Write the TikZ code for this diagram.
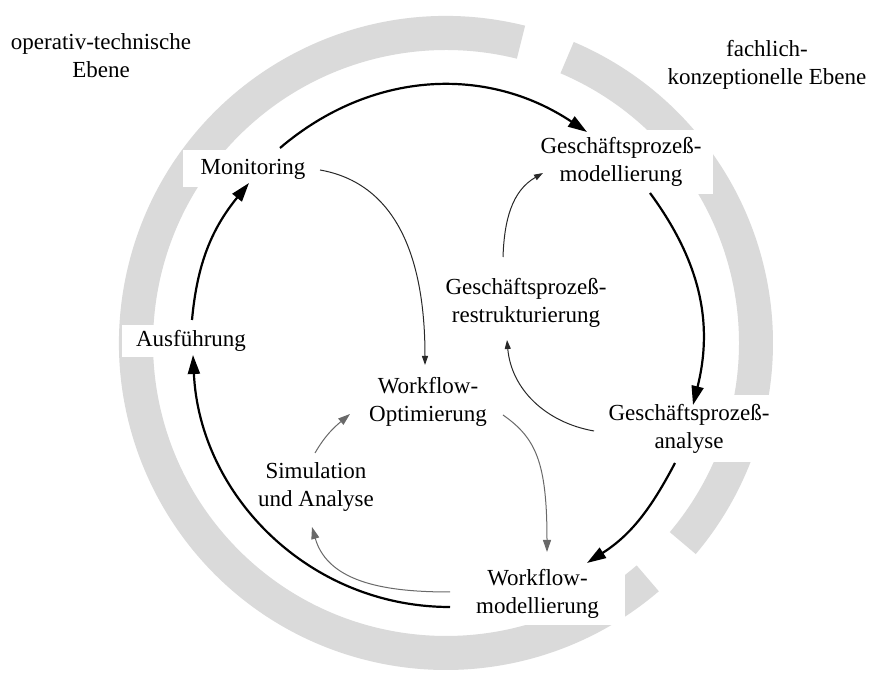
\documentclass[tikz,border=0pt]{standalone}
\usepackage{fontspec}
\setmainfont{Liberation Serif}
\newfontfamily\diagfont{Liberation Serif}
\usetikzlibrary{arrows.meta}
\definecolor{ringgray}{RGB}{218,218,218}
\definecolor{thindark}{RGB}{40,40,40}
\definecolor{thingray}{RGB}{105,105,105}
\begin{document}
\begin{tikzpicture}[x=1pt,y=1pt,
  lbl/.style={font=\diagfont\fontsize{23}{28}\selectfont, align=center, inner sep=0pt},
  box/.style={lbl, fill=white},
  main/.style={line width=2.2pt, -{Triangle[length=19pt,width=12pt]}},
  tarrow/.style={line width=1pt, draw=thindark, -{Triangle[length=9pt,width=6pt]}},
  garrow/.style={line width=1pt, draw=thingray, -{Triangle[length=12pt,width=8pt]}}
]
\useasboundingbox (0,0) rectangle (871,674);
\fill[white] (0,0) rectangle (871,674);
\coordinate (C) at (446,331);
% ring segments
\fill[ringgray] ([shift={(-40.2:327)}]C) arc[start angle=-40.2,end angle=67,radius=327pt]
  -- ([shift={(67:293)}]C) arc[start angle=67,end angle=-40.2,radius=293pt] -- cycle;
\fill[ringgray] ([shift={(76:327)}]C) arc[start angle=76,end angle=310.6,radius=327pt]
  -- ([shift={(310.6:293)}]C) arc[start angle=310.6,end angle=76,radius=293pt] -- cycle;
% nodes
\node[box, minimum width=140pt, minimum height=37pt] (mon) at (253,505) {Monitoring};
\node[box, minimum width=138pt, minimum height=32pt] (ausf) at (191,333) {Ausführung};
\node[box, minimum width=184pt, minimum height=64pt] (gpm) at (621,512) {Geschäftsprozeß-\\modellierung};
\node[box, minimum width=184pt, minimum height=67pt] (gpa) at (689,245) {Geschäftsprozeß-\\analyse};
\node[box, minimum width=175pt, minimum height=62pt] (wfm) at (537.5,80) {Workflow-\\modellierung};
\node[lbl] (wfo) at (428,272) {Workflow-\\Optimierung};
\node[lbl] (sim) at (316,187) {Simulation\\und Analyse};
\node[lbl] (gpr) at (526,371) {Geschäftsprozeß-\\restrukturierung};
\node[lbl] (ebene1) at (101,618) {operativ-technische\\Ebene};
\node[lbl] (ebene2) at (767,609) {fachlich-\\konzeptionelle Ebene};
% main cycle
\draw[main] ([shift={(1,21)}]ausf.center) to[out=84.8,in=-129.1] ([shift={(-4,-14)}]mon.center);
\draw[main] ([shift={(27,21)}]mon.center) to[out=40.4,in=146.3] ([shift={(-34,30)}]gpm.center);
\draw[main] ([shift={(29,-31)}]gpm.center) to[out=-53.7,in=75.9] ([shift={(4,24)}]gpa.center);
\draw[main] ([shift={(-14,-34)}]gpa.center) to[out=-117.7,in=32.7] ([shift={(49.5,31)}]wfm.center);
\draw[main] ([shift={(-87.5,-13)}]wfm.center) to[out=180,in=-87.3] ([shift={(2,-14)}]ausf.center);
% inner arrows
\draw[tarrow] ([shift={(67,-1)}]mon.center) to[out=-10,in=90,out distance=70pt,in distance=120pt] ([shift={(-3,37)}]wfo.center);
\draw[garrow] ([shift={(75,-13)}]wfo.center) to[out=-35,in=90,out distance=40pt,in distance=90pt] ([shift={(9.5,42)}]wfm.center);
\draw[garrow] ([shift={(-87.5,2)}]wfm.center) to[out=180,in=-74] ([shift={(-4,-40)}]sim.center);
\draw[garrow] ([shift={(-1,34)}]sim.center) to[out=60,in=220] ([shift={(-78,-12)}]wfo.center);
\draw[tarrow] ([shift={(-95,-2)}]gpa.center) to[out=170,in=-85] ([shift={(-19,-37)}]gpr.center);
\draw[tarrow] ([shift={(-23,46)}]gpr.center) to[out=88,in=-150] ([shift={(-78,-11)}]gpm.center);
\end{tikzpicture}
\end{document}
